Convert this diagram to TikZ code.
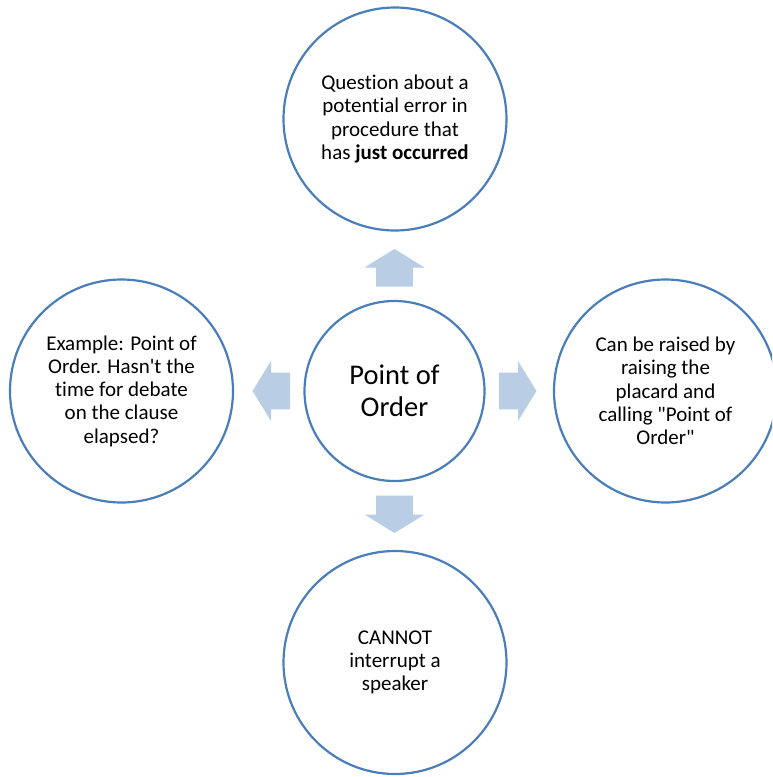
\documentclass[tikz,border=0pt]{standalone}
\usepackage{fontspec}
\setmainfont{Carlito}[Ligatures={NoCommon,TeXOff}]
\definecolor{ringblue}{RGB}{74,126,187}
\definecolor{arrowfill}{RGB}{185,205,229}
\tikzset{
  ring/.style={circle, draw=ringblue, line width=2.2pt, fill=white,
    inner sep=0pt, align=center, text=black},
  outerring/.style={ring, minimum size=223pt,
    font=\fontsize{21}{23.3}\selectfont},
  hubring/.style={ring, minimum size=180pt,
    font=\fontsize{28.5}{31.6}\selectfont},
  blockarrow/.pic={
    \fill[arrowfill] (104.5,-18.3) -- (123.5,-18.3) -- (123.5,-30)
      -- (142,0) -- (123.5,30) -- (123.5,18.3) -- (104.5,18.3) -- cycle;
  }
}
\begin{document}
\begin{tikzpicture}[x=1pt, y=-1pt]
  \useasboundingbox (0,0) rectangle (772,777);
  \clip (0,0) rectangle (772,777);

  % central hub
  \node[hubring] (hub) at (394.5,391) {Point of\\Order};

  % block arrows pointing from the hub to each satellite
  \pic[rotate=0]   at (hub.center) {blockarrow};
  \pic[rotate=90]  at (hub.center) {blockarrow};
  \pic[rotate=180] at (hub.center) {blockarrow};
  \pic[rotate=270] at (hub.center) {blockarrow};

  % satellites
  \node[outerring] (top) at (395,119)
    {Question about a\\potential error in\\procedure that\\has \textbf{just occurred}};
  \node[outerring] (right) at (665.5,391)
    {Can be raised by\\raising the\\placard and\\calling "Point of\\Order"};
  \node[outerring] (left) at (121.5,391)
    {Example: Point of\\Order. Hasn't the\\time for debate\\on the clause\\elapsed?};
  \node[outerring] (bottom) at (395,662.5)
    {CANNOT\\interrupt a\\speaker};
\end{tikzpicture}
\end{document}
